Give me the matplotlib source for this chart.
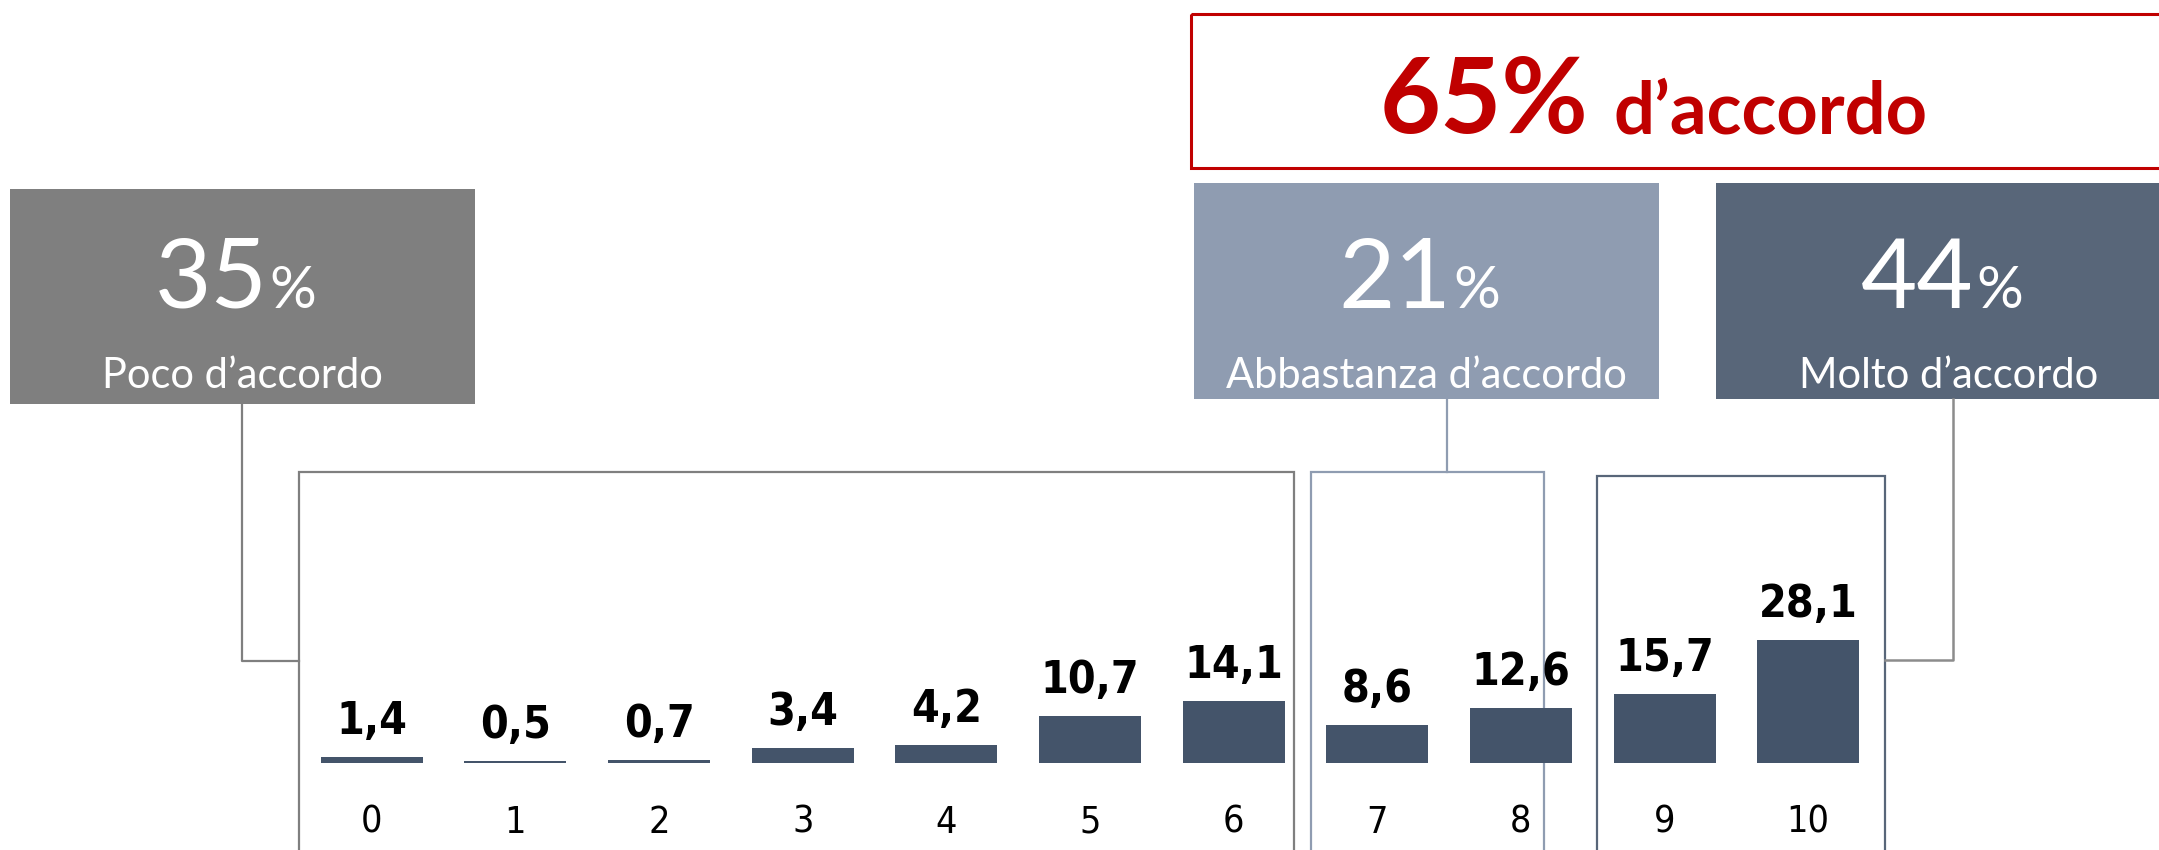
import matplotlib
matplotlib.use("Agg")
import matplotlib.pyplot as plt
from matplotlib.patches import Rectangle

# dati
scores = ["0", "1", "2", "3", "4", "5", "6", "7", "8", "9", "10"]
values = [1.4, 0.5, 0.7, 3.4, 4.2, 10.7, 14.1, 8.6, 12.6, 15.7, 28.1]
group_names = ["Poco d\u2019accordo", "Abbastanza d\u2019accordo", "Molto d\u2019accordo"]
group_pct = [35, 21, 44]
total_pct = 65

W, H = 2159, 850
BAR = "#44546A"
RED = "#C00000"
box_fill = ["#7F7F7F", "#8F9CB1", "#586679"]
frame_col = ["#7F7F7F", "#8F9CB1", "#586679"]
line_col = ["#7F7F7F", "#8F9CB1", "#8C8C8C"]

narrow = ["DejaVu Sans"]
light = ["Lato", "DejaVu Sans"]

fig = plt.figure(figsize=(W / 100, H / 100), dpi=100)

# overlay in pixel coordinates (origin top-left)
ov = fig.add_axes([0, 0, 1, 1])
ov.set_xlim(0, W)
ov.set_ylim(H, 0)
ov.axis("off")

# grafico a barre
ax = fig.add_axes([300 / W, (H - 763) / H, 1580 / W, 291 / H])
ax.patch.set_visible(False)
x = list(range(len(scores)))
ax.bar(x, values, width=0.71, color=BAR)
ax.set_xlim(-0.5, 10.5)
ax.set_ylim(0, 66.5)
for xi, v in zip(x, values):
    ax.annotate(f"{v:.1f}".replace(".", ","), (xi, v), xytext=(0, 10),
                textcoords="offset points", ha="center", va="bottom",
                fontsize=32, fontweight="bold", family=narrow, fontstretch="condensed")
ax.set_xticks(x)
ax.set_xticklabels(scores, fontsize=27, family=narrow, fontstretch="condensed")
ax.tick_params(axis="x", length=0, pad=30)
ax.set_yticks([])
for s in ax.spines.values():
    s.set_visible(False)

# riquadri dei gruppi
frames = [(299, 1294, 472), (1311, 1544, 472), (1597, 1885, 476)]
for (l, r, t), c in zip(frames, frame_col):
    ov.plot([l, l, r, r], [H + 5, t, t, H + 5], color=c, lw=1.6, solid_joinstyle="miter")

# caselle in alto
boxes = [(10, 189, 465, 215), (1194, 183, 465, 216), (1716, 183, 466, 216)]
for (bx, by, bw, bh), fc, name, pct in zip(boxes, box_fill, group_names, group_pct):
    ov.add_patch(Rectangle((bx, by), bw, bh, facecolor=fc, edgecolor="none"))
    cx = bx + bw / 2
    ov.text(cx + 25, 308, str(pct), color="white", fontsize=70, fontweight="normal",
            family=light, ha="right", va="baseline")
    ov.text(cx + 27, 308, "%", color="white", fontsize=42, fontweight="normal",
            family=light, ha="left", va="baseline")
    ov.text(cx, 388, name, color="white", fontsize=30, fontweight="normal",
            family=light, ha="center", va="baseline")

# connettori
ov.plot([242, 242, 299], [404, 661, 661], color=line_col[0], lw=1.6)
ov.plot([1447, 1447], [399, 472], color=line_col[1], lw=1.6)
ov.plot([1953, 1953, 1885], [399, 660, 660], color=line_col[2], lw=1.8)

# totale d'accordo
ov.add_patch(Rectangle((1191, 14), 1000, 154, facecolor="none", edgecolor=RED, lw=2.2))
ov.text(1588, 133, f"{total_pct}%", color=RED, fontsize=76, fontweight="bold",
        family=light, ha="right", va="baseline")
ov.text(1613, 133, "d\u2019accordo", color=RED, fontsize=52, fontweight="bold",
        family=light, ha="left", va="baseline")

fig.savefig("out.png", dpi=100)
